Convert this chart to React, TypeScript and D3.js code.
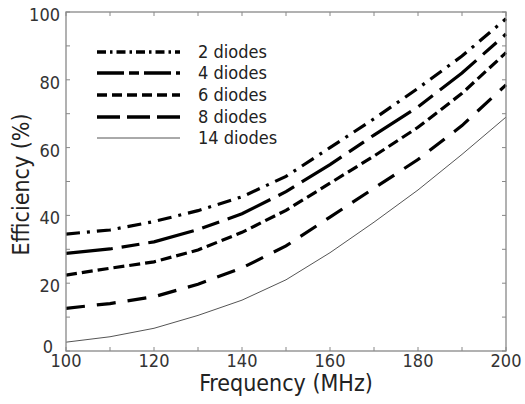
import React from "react";
import * as d3 from "d3";

const freqs = [100, 110, 120, 130, 140, 150, 160, 170, 180, 190, 200];
const diodes2 = [34.5, 35.7, 38.2, 41.4, 45.5, 51.5, 60, 68.5, 77.5, 87, 98];
const diodes4 = [28.8, 30.1, 32.2, 35.8, 40.5, 47, 55, 63.7, 72, 82, 93.5];
const diodes6 = [22.4, 24.4, 26.3, 29.8, 35, 41.5, 49.5, 57.5, 66, 76, 88];
const diodes8 = [12.6, 14.0, 16.0, 19.7, 24.5, 31, 39.5, 48, 56.5, 66.5, 78.5];
const diodes14 = [2.6, 4.2, 6.7, 10.5, 15, 21, 29, 38, 47.5, 58, 69];
const seriesLabels = ["2 diodes", "4 diodes", "6 diodes", "8 diodes", "14 diodes"];
const xTicks = [100, 120, 140, 160, 180, 200];
const yTicks = [0, 20, 40, 60, 80, 100];

const W = 525;
const H = 404;
const L = 66, R = 506, T = 12, B = 351;
const FONT = "'DejaVu Sans Condensed', 'Liberation Sans', Arial, sans-serif";

const styles = [
  { w: 3.2, dash: "14,7,3,7", legDash: "9,4,2.5,4", color: "#000" },
  { w: 3.2, dash: "47,9,18,9", legDash: "27,5,10,5", color: "#000" },
  { w: 3.2, dash: "11,5", legDash: "10,5", color: "#000" },
  { w: 3.2, dash: "19,12", legDash: "23,7", color: "#000" },
  { w: 1, dash: "none", legDash: "none", color: "#555" },
];

export default function App() {
  const x = d3.scaleLinear().domain([100, 200]).range([L, R]);
  const y = d3.scaleLinear().domain([0, 100]).range([B, T]);
  const all = [diodes2, diodes4, diodes6, diodes8, diodes14];
  const line = d3
    .line<number>()
    .x((_, i) => x(freqs[i]))
    .y((d) => y(d))
    .curve(d3.curveLinear);

  const xMinor = d3.range(100, 201, 10);
  const yMinor = d3.range(0, 101, 10);
  const legX0 = 97, legX1 = 180, legText = 198;
  const legY = [52, 73, 95, 117, 138];

  return (
    <svg
      width={W}
      height={H}
      style={{ position: "absolute", left: 0, top: 0, background: "#fff" }}
      fontFamily={FONT}
    >
      <rect x={0} y={0} width={W} height={H} fill="#fff" />
      {all.map((d, i) => (
        <path
          key={i}
          d={line(d) || ""}
          fill="none"
          stroke={styles[i].color}
          strokeWidth={styles[i].w}
          strokeDasharray={styles[i].dash}
        />
      ))}
      {/* axes box */}
      <rect x={L} y={T} width={R - L} height={B - T} fill="none" stroke="#888" strokeWidth={1.3} />
      {xMinor.map((v) => (
        <g key={"xt" + v}>
          <line x1={x(v)} x2={x(v)} y1={B} y2={B - 4} stroke="#888" />
          <line x1={x(v)} x2={x(v)} y1={T} y2={T + 4} stroke="#888" />
        </g>
      ))}
      {yMinor.map((v) => (
        <g key={"yt" + v}>
          <line x1={L} x2={L + 4} y1={y(v)} y2={y(v)} stroke="#888" />
          <line x1={R} x2={R - 4} y1={y(v)} y2={y(v)} stroke="#888" />
        </g>
      ))}
      {xTicks.map((v) => (
        <text key={"xl" + v} x={x(v)} y={367} textAnchor="middle" fontSize={18} fill="#333">
          {v}
        </text>
      ))}
      {yTicks.map((v) => (
        <text
          key={"yl" + v}
          x={v === 0 ? 53 : 60}
          y={v === 0 ? y(v) + 2 : y(v) + 9}
          textAnchor="end"
          fontSize={18}
          fill="#333"
        >
          {v}
        </text>
      ))}
      <text x={(L + R) / 2} y={391} textAnchor="middle" fontSize={23} fill="#222">
        Frequency (MHz)
      </text>
      <text
        transform={`translate(29,${(T + B) / 2 + 3}) rotate(-90)`}
        textAnchor="middle"
        fontSize={23}
        fill="#222"
      >
        Efficiency (%)
      </text>
      {/* legend */}
      {seriesLabels.map((s, i) => (
        <g key={"lg" + i}>
          <line
            x1={legX0}
            x2={legX1}
            y1={legY[i]}
            y2={legY[i]}
            stroke={styles[i].color}
            strokeWidth={i === 4 ? 1 : 3.5}
            strokeDasharray={styles[i].legDash}
          />
          <text x={legText} y={legY[i] + 6} fontSize={18} fill="#222">
            {s}
          </text>
        </g>
      ))}
    </svg>
  );
}
